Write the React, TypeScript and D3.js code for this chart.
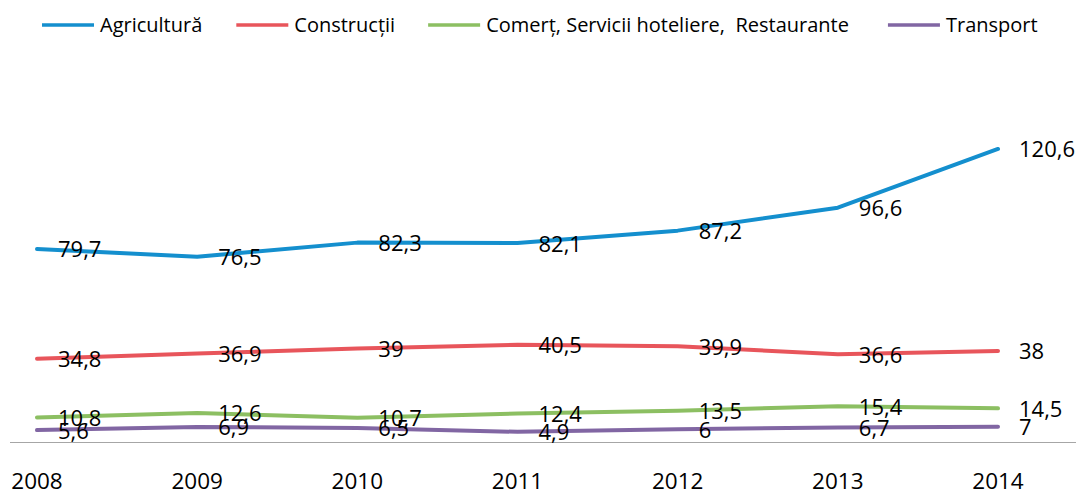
import React, { useEffect, useRef } from "react";
import * as d3 from "d3";

const years = ["2008", "2009", "2010", "2011", "2012", "2013", "2014"];
const seriesNames = ["Agricultură", "Construcții", "Comerț, Servicii hoteliere,  Restaurante", "Transport"];
const agricultura = [79.7, 76.5, 82.3, 82.1, 87.2, 96.6, 120.6];
const constructii = [34.8, 36.9, 39, 40.5, 39.9, 36.6, 38];
const comert = [10.8, 12.6, 10.7, 12.4, 13.5, 15.4, 14.5];
const transport = [5.6, 6.9, 6.5, 4.9, 6, 6.7, 7];
const colors = ["#148fce", "#e8555b", "#8cbf62", "#8166a3"];

const W = 1080;
const H = 491;
const FONT = "'Open Sans', sans-serif";

export default function App() {
  const ref = useRef<SVGSVGElement | null>(null);

  useEffect(() => {
    document.body.style.margin = "0";
    const svg = d3.select(ref.current);
    svg.selectAll("*").remove();

    const allSeries = [agricultura, constructii, comert, transport];
    const x = d3.scalePoint<string>().domain(years).range([37, 998]);
    const y = d3.scaleLinear().domain([0, 140]).range([443.8, 443.8 - 140 * 2.4445]);

    // axis line
    svg
      .append("line")
      .attr("x1", 10)
      .attr("x2", 1076)
      .attr("y1", 442.5)
      .attr("y2", 442.5)
      .attr("stroke", "#a6a6a6")
      .attr("stroke-width", 1);

    // x labels
    svg
      .append("g")
      .selectAll("text")
      .data(years)
      .join("text")
      .attr("x", (d) => x(d)!)
      .attr("y", 489)
      .attr("text-anchor", "middle")
      .attr("font-family", FONT)
      .attr("font-size", 22.5)
      .attr("fill", "#000")
      .text((d) => d);

    const line = d3
      .line<number>()
      .x((_, i) => x(years[i])!)
      .y((d) => y(d));

    allSeries.forEach((vals, si) => {
      svg
        .append("path")
        .datum(vals)
        .attr("d", line)
        .attr("fill", "none")
        .attr("stroke", colors[si])
        .attr("stroke-width", 4)
        .attr("stroke-linecap", "round")
        .attr("stroke-linejoin", "round");
    });

    allSeries.forEach((vals) => {
      svg
        .append("g")
        .selectAll("text")
        .data(vals)
        .join("text")
        .attr("x", (_, i) => x(years[i])! + 21)
        .attr("y", (d) => y(d) + 8.5)
        .attr("font-family", FONT)
        .attr("font-size", 22)
        .attr("fill", "#000")
        .text((d) => String(d).replace(".", ","));
    });

    // legend
    const lg = svg.append("g");
    let cx = 42;
    const gaps = [34, 33, 39];
    seriesNames.forEach((name, i) => {
      lg.append("line")
        .attr("x1", cx)
        .attr("x2", cx + 52)
        .attr("y1", 25)
        .attr("y2", 25)
        .attr("stroke", colors[i])
        .attr("stroke-width", 3.5);
      const t = lg
        .append("text")
        .attr("x", cx + 58)
        .attr("y", 32)
        .attr("font-family", FONT)
        .attr("font-size", 20)
        .attr("fill", "#000")
        .style("white-space", "pre")
        .attr("xml:space", "preserve")
        .text(name);
      const w = (t.node() as SVGTextElement).getComputedTextLength();
      cx = cx + 58 + w + (gaps[i] ?? 0);
    });
  }, []);

  return <svg ref={ref} width={W} height={H} style={{ display: "block", background: "#fff" }} />;
}
